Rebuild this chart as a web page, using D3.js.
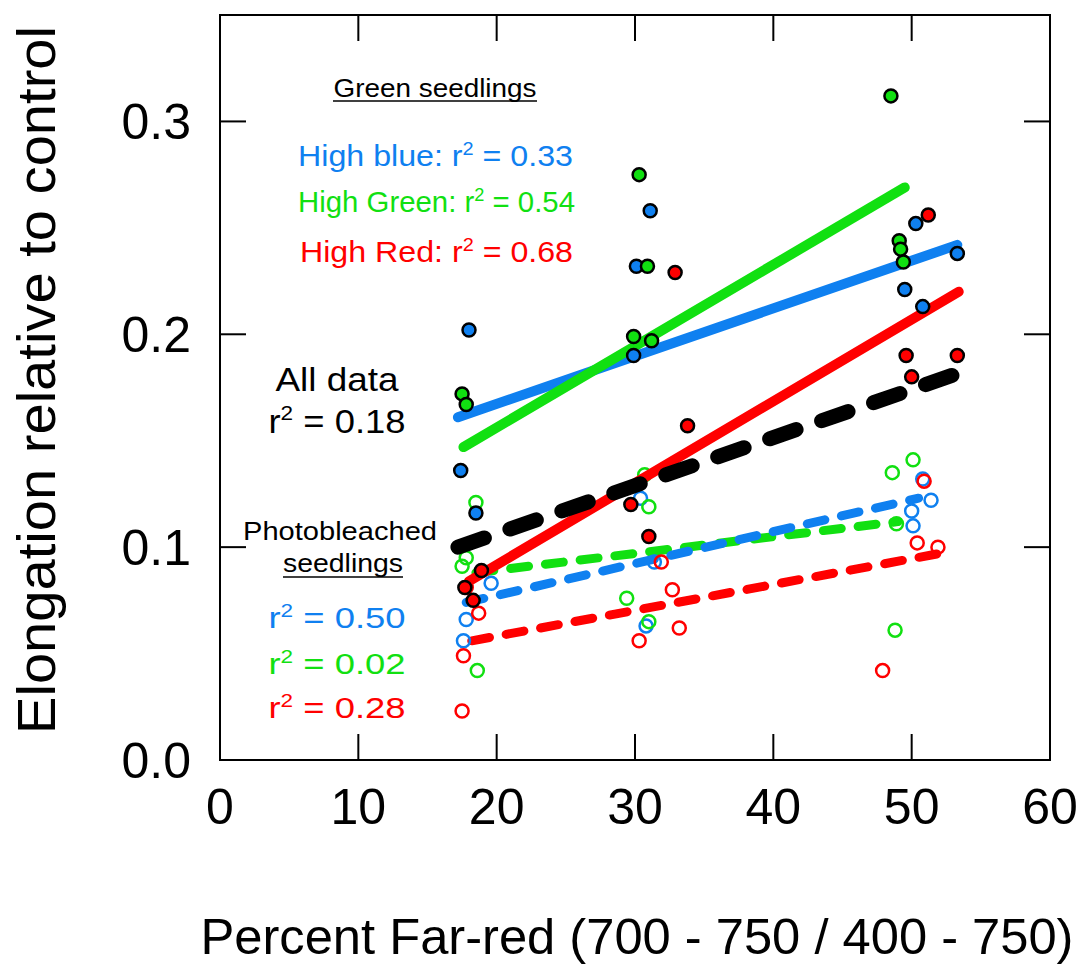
<!DOCTYPE html>
<html>
<head>
<meta charset="utf-8">
<script src="https://cdn.jsdelivr.net/npm/d3@7"></script>
<style>
  body { margin: 0; background: #fff; }
  text { font-family: Arial, "Liberation Sans", sans-serif; }
</style>
</head>
<body>
<div id="chart-area"></div>
<script>
// Green seedlings (filled points), [percent far-red, elongation]
var greenBlue = [[17.4, 0.136], [18.0, 0.202], [18.5, 0.116], [30.1, 0.232], [31.1, 0.258], [29.9, 0.190],
                 [50.3, 0.252], [53.3, 0.238], [49.5, 0.221], [50.8, 0.213]];
var greenGreen = [[17.5, 0.172], [17.8, 0.167], [30.3, 0.275], [30.9, 0.232], [29.9, 0.199], [31.2, 0.197],
                  [48.5, 0.312], [49.1, 0.244], [49.2, 0.240], [49.4, 0.234]];
var greenRed = [[18.9, 0.089], [17.7, 0.081], [18.3, 0.075], [32.9, 0.229], [33.8, 0.157], [29.7, 0.120],
                [31.0, 0.105], [51.2, 0.256], [49.6, 0.190], [53.3, 0.190], [50.0, 0.180]];

// Photobleached seedlings (open points)
var pbBlue = [[19.6, 0.083], [17.8, 0.066], [17.6, 0.056], [30.4, 0.123], [31.4, 0.093], [30.8, 0.063],
              [50.8, 0.132], [51.4, 0.122], [50.0, 0.117], [50.1, 0.110]];
var pbGreen = [[18.5, 0.121], [17.5, 0.091], [17.8, 0.095], [18.6, 0.042], [30.7, 0.134], [31.0, 0.119],
               [29.4, 0.076], [31.0, 0.065], [50.1, 0.141], [48.6, 0.135], [48.9, 0.111], [48.8, 0.061]];
var pbRed = [[17.8, 0.081], [18.7, 0.069], [17.6, 0.049], [17.5, 0.023], [31.9, 0.093], [32.7, 0.080],
             [33.2, 0.062], [30.3, 0.056], [50.9, 0.131], [50.4, 0.102], [51.9, 0.100], [47.9, 0.042]];

// Regression lines, endpoints
var fitGreen = [
  {name: "blue",  x1: 17.2, y1: 0.161, x2: 53.3, y2: 0.242},
  {name: "green", x1: 17.6, y1: 0.147, x2: 49.5, y2: 0.269},
  {name: "red",   x1: 18.0, y1: 0.084, x2: 53.4, y2: 0.220}
];
var fitBleached = [
  {name: "green", x1: 18.5, y1: 0.088, x2: 49.0, y2: 0.112},
  {name: "blue",  x1: 17.8, y1: 0.074, x2: 50.5, y2: 0.123},
  {name: "red",   x1: 18.2, y1: 0.056, x2: 52.0, y2: 0.097}
];
var fitAll = {x1: 17.2, y1: 0.100, x2: 53.5, y2: 0.182};

var xTicks = [0, 10, 20, 30, 40, 50, 60];
var yTicks = [0.0, 0.1, 0.2, 0.3];

var colors = {blue: "#0f80f0", green: "#11e011", red: "#ff0000"};

var margin = {top: 15, right: 35, bottom: 208, left: 220},
    width = 1050 - margin.left,
    height = 760 - margin.top;

var svg = d3.select("#chart-area")
    .append("svg")
    .attr("width", 1085)
    .attr("height", 968)
    .append("g")
    .attr("transform", "translate(" + margin.left + "," + margin.top + ")");

var x = d3.scaleLinear().domain([0, 60]).range([0, width]);
var y = d3.scaleLinear().domain([0, 0.35]).range([height, 0]);

// Frame
svg.append("rect")
    .attr("width", width).attr("height", height)
    .attr("fill", "none").attr("stroke", "#000").attr("stroke-width", 2);

// Inner ticks on all four sides
var tickLen = 26;
var xInner = xTicks.slice(1, -1), yInner = yTicks.slice(1);
xInner.forEach(function(t) {
  svg.append("line").attr("x1", x(t)).attr("x2", x(t)).attr("y1", height).attr("y2", height - tickLen)
     .attr("stroke", "#000").attr("stroke-width", 2);
  svg.append("line").attr("x1", x(t)).attr("x2", x(t)).attr("y1", 0).attr("y2", tickLen)
     .attr("stroke", "#000").attr("stroke-width", 2);
});
yInner.forEach(function(t) {
  svg.append("line").attr("x1", 0).attr("x2", tickLen).attr("y1", y(t)).attr("y2", y(t))
     .attr("stroke", "#000").attr("stroke-width", 2);
  svg.append("line").attr("x1", width).attr("x2", width - tickLen).attr("y1", y(t)).attr("y2", y(t))
     .attr("stroke", "#000").attr("stroke-width", 2);
});

// Tick labels
svg.selectAll(".xtl").data(xTicks).enter().append("text")
    .attr("x", d => x(d)).attr("y", height + 64)
    .attr("text-anchor", "middle").attr("font-size", 50)
    .text(d => d);
svg.selectAll(".ytl").data(yTicks).enter().append("text")
    .attr("x", -29).attr("y", d => y(d) + 18)
    .attr("text-anchor", "end").attr("font-size", 50)
    .text(d => d.toFixed(1));

// Axis titles
svg.append("text")
    .attr("x", 417).attr("y", height + 194)
    .attr("text-anchor", "middle").attr("font-size", 50)
    .attr("textLength", 873).attr("lengthAdjust", "spacingAndGlyphs")
    .text("Percent Far-red (700 - 750 / 400 - 750)");
svg.append("text")
    .attr("transform", "rotate(-90)")
    .attr("x", -365).attr("y", -165)
    .attr("text-anchor", "middle").attr("font-size", 53)
    .attr("textLength", 708).attr("lengthAdjust", "spacingAndGlyphs")
    .text("Elongation relative to control");

// Photobleached dashed fits
svg.selectAll(".pbfit").data(fitBleached).enter().append("line")
    .attr("x1", d => x(d.x1)).attr("y1", d => y(d.y1))
    .attr("x2", d => x(d.x2)).attr("y2", d => y(d.y2))
    .attr("stroke", d => colors[d.name]).attr("stroke-width", 9)
    .attr("stroke-linecap", "round").attr("stroke-dasharray", "18,17");

// Open points
function openPts(data, c) {
  svg.append("g").selectAll("circle").data(data).enter().append("circle")
      .attr("cx", d => x(d[0])).attr("cy", d => y(d[1])).attr("r", 6.5)
      .attr("fill", "none").attr("stroke", c).attr("stroke-width", 2.5);
}
openPts(pbBlue, colors.blue);
openPts(pbGreen, colors.green);
openPts(pbRed, colors.red);

// Green seedling solid fits
svg.selectAll(".gfit").data(fitGreen).enter().append("line")
    .attr("x1", d => x(d.x1)).attr("y1", d => y(d.y1))
    .attr("x2", d => x(d.x2)).attr("y2", d => y(d.y2))
    .attr("stroke", d => colors[d.name]).attr("stroke-width", 10)
    .attr("stroke-linecap", "round");

// Filled points
function filledPts(data, c) {
  svg.append("g").selectAll("circle").data(data).enter().append("circle")
      .attr("cx", d => x(d[0])).attr("cy", d => y(d[1])).attr("r", 6.5)
      .attr("fill", c).attr("stroke", "#000").attr("stroke-width", 2.5);
}
filledPts(greenBlue, colors.blue);
filledPts(greenGreen, colors.green);
filledPts(greenRed, colors.red);

// All data fit
svg.append("line")
    .attr("x1", x(fitAll.x1)).attr("y1", y(fitAll.y1))
    .attr("x2", x(fitAll.x2)).attr("y2", y(fitAll.y2))
    .attr("stroke", "#000").attr("stroke-width", 15)
    .attr("stroke-linecap", "round").attr("stroke-dasharray", "28,27");

// Annotations
function label(tx, ty, size, color, parts, anchor, len) {
  var t = svg.append("text").attr("x", tx).attr("y", ty)
      .attr("font-size", size).attr("fill", color)
      .attr("text-anchor", anchor || "start");
  if (len) t.attr("textLength", len).attr("lengthAdjust", "spacingAndGlyphs");
  parts.forEach(function(p) {
    var s = t.append("tspan").text(p.t);
    if (p.sup) s.attr("dy", -size * 0.38).attr("font-size", size * 0.62);
    else if (p.down) s.attr("dy", size * 0.38);
  });
  return t;
}
function r2(prefix, val) {
  return [{t: prefix + "r"}, {t: "2", sup: true}, {t: " = " + val, down: true}];
}

label(215, 82, 26, "#000", [{t: "Green seedlings"}], "middle", 203);
svg.append("line").attr("x1", 113).attr("x2", 317).attr("y1", 86).attr("y2", 86)
    .attr("stroke", "#000").attr("stroke-width", 1.5);
label(78, 151, 29, colors.blue, r2("High blue: ", "0.33"), "start", 275);
label(78, 197, 29, colors.green, r2("High Green: ", "0.54"), "start", 277);
label(80, 247, 29, colors.red, r2("High Red: ", "0.68"), "start", 273);

label(117, 376, 34, "#000", [{t: "All data"}], "middle", 123);
label(117, 418, 34, "#000", r2("", "0.18"), "middle", 137);

label(120, 525, 26, "#000", [{t: "Photobleached"}], "middle", 194);
label(123, 557, 26, "#000", [{t: "seedlings"}], "middle", 120);
svg.append("line").attr("x1", 63).attr("x2", 183).attr("y1", 562).attr("y2", 562)
    .attr("stroke", "#000").attr("stroke-width", 1.5);
label(117, 613, 29, colors.blue, r2("", "0.50"), "middle", 137);
label(117, 659, 29, colors.green, r2("", "0.02"), "middle", 137);
label(117, 703, 29, colors.red, r2("", "0.28"), "middle", 137);
</script>
</body>
</html>
